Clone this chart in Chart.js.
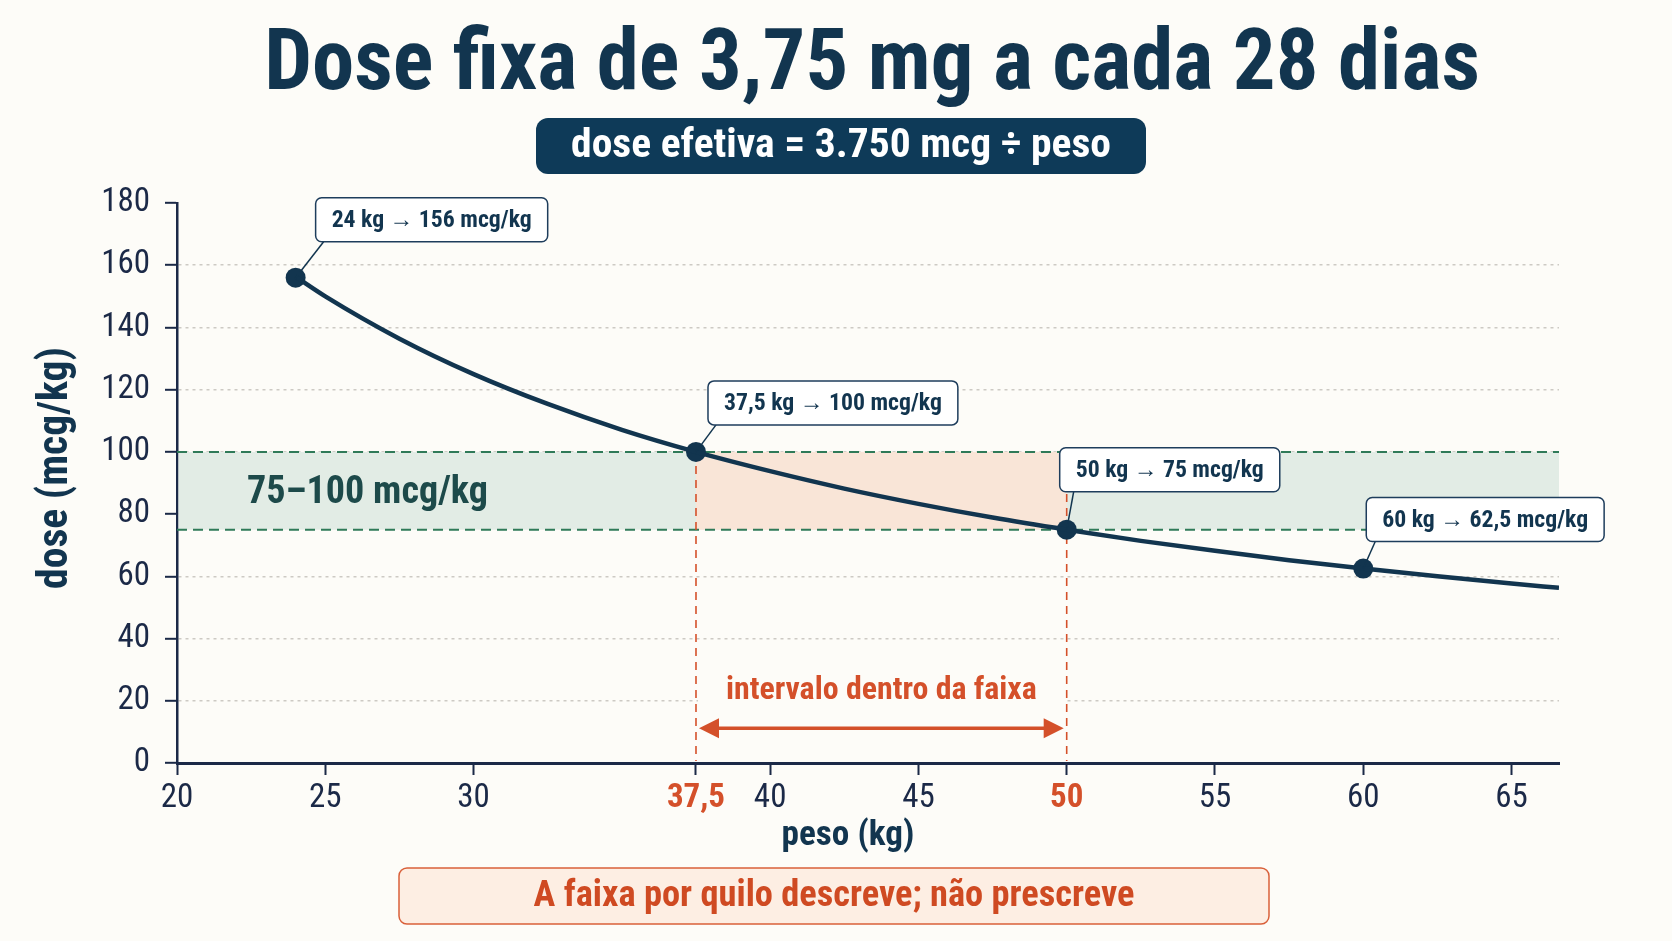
<!DOCTYPE html>
<html lang="pt-BR">
<head>
<meta charset="utf-8">
<title>Dose fixa de 3,75 mg a cada 28 dias</title>
<script src="https://cdn.jsdelivr.net/npm/chart.js@4.4.1/dist/chart.umd.min.js"></script>
<style>
  html, body { margin: 0; padding: 0; background: #fdfcf8; }
  #wrap { width: 1672px; height: 941px; }
</style>
</head>
<body>
<div id="wrap"><canvas id="dose" width="1672" height="941"></canvas></div>
<script>
// curva: dose por quilo (mcg/kg) para cada peso (kg)
const pesos = [24, 25, 27.5, 30, 32.5, 35, 37.5, 40, 42.5, 45, 47.5, 50, 52.5, 55, 57.5, 60, 62.5, 65, 66.6]
const doses = [156.3, 150, 136.4, 125, 115.4, 107.1, 100, 93.8, 88.2, 83.3, 78.9, 75, 71.4, 68.2, 65.2, 62.5, 60, 57.7, 56.3]

// pontos destacados
const pontosPeso = [24, 37.5, 50, 60]
const pontosDose = [156, 100, 75, 62.5]

const ticksX = [20, 25, 30, 37.5, 40, 45, 50, 55, 60, 65]
const ticksDestaque = [37.5, 50]
const faixa = [75, 100]
const intervalo = [37.5, 50]

const NAVY = '#12354f'
const INK = '#1b2947'
const RED = '#d4502a'
const GREEN = '#2f7a58'
const GREEN_FILL = '#e2ece5'
const PEACH_FILL = '#f9e5d7'
const BG = '#fdfcf8'
const FAMILY = "'Liberation Sans Narrow', 'Roboto Condensed', Roboto, sans-serif"

const fmt = v => String(v).replace('.', ',')
const destaque = c => !!(c.tick && ticksDestaque.includes(c.tick.value))

function fitFont(ctx, text, weight, maxWidth, maxSize) {
    ctx.font = `${weight} 100px ${FAMILY}`
    const w = ctx.measureText(text).width
    const size = Math.min(maxSize, 100 * maxWidth / w)
    ctx.font = `${weight} ${size}px ${FAMILY}`
    return size
}

function box(ctx, x, y, w, h, r, fill, stroke, lw) {
    ctx.beginPath()
    ctx.roundRect(x, y, w, h, r)
    if (fill) { ctx.fillStyle = fill; ctx.fill() }
    if (stroke) { ctx.lineWidth = lw; ctx.strokeStyle = stroke; ctx.stroke() }
}

function line(ctx, x1, y1, x2, y2) {
    ctx.beginPath()
    ctx.moveTo(x1, y1)
    ctx.lineTo(x2, y2)
    ctx.stroke()
}

// onde fica cada caixinha em relacao ao seu ponto
const caixas = [
    { dx: 20, dy: -36, lx: 8 },
    { dx: 12, dy: -27, lx: 8 },
    { dx: -7, dy: -38, lx: 14 },
    { dx: 3, dy: -27, lx: 9 }
]

const extras = {
    id: 'extras',
    beforeDraw(chart) {
        const ctx = chart.ctx
        ctx.save()
        ctx.fillStyle = BG
        ctx.fillRect(0, 0, chart.width, chart.height)
        ctx.restore()
    },
    beforeDatasetsDraw(chart) {
        const { ctx, chartArea: a, scales: { x, y } } = chart
        const yHi = y.getPixelForValue(faixa[1])
        const yLo = y.getPixelForValue(faixa[0])
        const xA = x.getPixelForValue(intervalo[0])
        const xB = x.getPixelForValue(intervalo[1])
        ctx.save()

        ctx.fillStyle = GREEN_FILL
        ctx.fillRect(a.left + 1.5, yHi, a.right - a.left - 1.5, yLo - yHi)
        ctx.fillStyle = PEACH_FILL
        ctx.fillRect(xA, yHi, xB - xA, yLo - yHi)

        // esconde a grade atras do texto do intervalo
        const yT1 = y.getPixelForValue(31), yT2 = y.getPixelForValue(16)
        ctx.fillStyle = BG
        ctx.fillRect(xA + 2, yT1, xB - xA - 4, yT2 - yT1)

        ctx.setLineDash([10, 6])
        ctx.lineWidth = 2
        ctx.strokeStyle = GREEN
        faixa.forEach(v => {
            const py = y.getPixelForValue(v)
            line(ctx, a.left, py, a.right, py)
        })

        ctx.setLineDash([8, 6])
        ctx.lineWidth = 1.6
        ctx.strokeStyle = RED
        intervalo.forEach(v => {
            const px = x.getPixelForValue(v)
            line(ctx, px, yHi, px, a.bottom - 2)
        })
        ctx.setLineDash([])

        // seta dupla
        const ay = y.getPixelForValue(11.2)
        const x1 = xA + 3, x2 = xB - 3
        ctx.strokeStyle = RED
        ctx.fillStyle = RED
        ctx.lineWidth = 3.5
        line(ctx, x1 + 12, ay, x2 - 12, ay)
        ctx.beginPath()
        ctx.moveTo(x1, ay); ctx.lineTo(x1 + 20, ay - 10); ctx.lineTo(x1 + 20, ay + 10); ctx.closePath()
        ctx.fill()
        ctx.beginPath()
        ctx.moveTo(x2, ay); ctx.lineTo(x2 - 20, ay - 10); ctx.lineTo(x2 - 20, ay + 10); ctx.closePath()
        ctx.fill()

        ctx.textAlign = 'center'
        ctx.textBaseline = 'middle'
        fitFont(ctx, 'intervalo dentro da faixa', 'bold', 311, 34)
        ctx.fillText('intervalo dentro da faixa', (xA + xB) / 2, y.getPixelForValue(23))

        ctx.textAlign = 'left'
        ctx.fillStyle = '#1d4a4a'
        const faixaTexto = `${faixa[0]}–${faixa[1]} mcg/kg`
        fitFont(ctx, faixaTexto, 'bold', 241, 40)
        ctx.fillText(faixaTexto, a.left + 70, y.getPixelForValue(86.5))

        ctx.restore()
    },
    afterDraw(chart) {
        const { ctx, scales: { x, y } } = chart
        ctx.save()
        ctx.textBaseline = 'middle'
        ctx.textAlign = 'center'

        // titulo
        ctx.fillStyle = NAVY
        fitFont(ctx, 'Dose fixa de 3,75 mg a cada 28 dias', 'bold', 1216, 92)
        ctx.textBaseline = 'alphabetic'
        ctx.fillText('Dose fixa de 3,75 mg a cada 28 dias', 872, 89)
        ctx.textBaseline = 'middle'

        // subtitulo
        box(ctx, 536, 118, 610, 56, 12, '#0e3a58')
        ctx.fillStyle = '#ffffff'
        fitFont(ctx, 'dose efetiva = 3.750 mcg ÷ peso', 'bold', 540, 44)
        ctx.fillText('dose efetiva = 3.750 mcg ÷ peso', 841, 147)

        // titulos dos eixos
        ctx.fillStyle = NAVY
        fitFont(ctx, 'peso (kg)', 'bold', 133, 38)
        ctx.fillText('peso (kg)', 848, 836)
        ctx.save()
        ctx.translate(57, 468)
        ctx.rotate(-Math.PI / 2)
        fitFont(ctx, 'dose (mcg/kg)', 'bold', 242, 42)
        ctx.fillText('dose (mcg/kg)', 0, 0)
        ctx.restore()

        // caixas dos pontos
        const textos = pontosPeso.map((p, i) => `${fmt(p)} kg → ${fmt(pontosDose[i])} mcg/kg`)
        const size = fitFont(ctx, textos[1], 'bold', 218, 25)
        ctx.font = `bold ${size}px ${FAMILY}`
        textos.forEach((t, i) => {
            const px = x.getPixelForValue(pontosPeso[i])
            const py = y.getPixelForValue(pontosDose[i])
            const c = caixas[i]
            const w = ctx.measureText(t).width + 32
            const h = 44
            const bx = px + c.dx, by = py + c.dy - h
            ctx.strokeStyle = NAVY
            ctx.lineWidth = 1.5
            line(ctx, bx + c.lx, by + h, px, py)
            box(ctx, bx, by, w, h, 6, '#ffffff', '#1e3d5c', 1.5)
            ctx.fillStyle = NAVY
            ctx.textAlign = 'left'
            ctx.fillText(t, bx + 16, by + h / 2 + 1)
        })

        // nota de rodape
        ctx.textAlign = 'center'
        box(ctx, 399, 868, 870, 56, 8, '#fdeee3', '#d9603a', 1.5)
        ctx.fillStyle = '#cf4a22'
        fitFont(ctx, 'A faixa por quilo descreve; não prescreve', 'bold', 601, 40)
        ctx.fillText('A faixa por quilo descreve; não prescreve', 834, 897)

        ctx.restore()
    }
}

const curva = pesos.map((p, i) => ({ x: p, y: doses[i] }))
const pontos = pontosPeso.map((p, i) => ({ x: p, y: pontosDose[i] }))

new Chart(document.getElementById('dose'), {
    type: 'line',
    data: {
        datasets: [{
            label: 'dose',
            data: curva,
            borderColor: NAVY,
            borderWidth: 4.5,
            pointRadius: 0,
            cubicInterpolationMode: 'monotone'
        },
        {
            label: 'pontos',
            data: pontos,
            showLine: false,
            pointRadius: 10,
            pointBackgroundColor: NAVY,
            pointBorderWidth: 0
        }]
    },
    options: {
        responsive: false,
        animation: false,
        layout: { padding: { left: 0, right: 113, top: 203, bottom: 118 } },
        plugins: { legend: { display: false }, tooltip: { enabled: false } },
        scales: {
            x: {
                type: 'linear',
                min: 20,
                max: 66.6,
                afterBuildTicks: s => { s.ticks = ticksX.map(v => ({ value: v })) },
                afterFit: s => { s.height = 60 },
                grid: { drawOnChartArea: false, tickLength: 12, tickColor: INK, tickWidth: 2 },
                border: { color: INK, width: 3 },
                ticks: {
                    padding: 4,
                    autoSkip: false,
                    maxRotation: 0,
                    callback: v => fmt(v),
                    color: c => destaque(c) ? RED : INK,
                    font: c => ({
                        family: FAMILY,
                        size: 33,
                        weight: destaque(c) ? 'bold' : 'normal'
                    })
                }
            },
            y: {
                min: 0,
                max: 180,
                afterFit: s => { s.width = 177 },
                grid: {
                    color: c => (!c.tick || c.tick.value === 0 || c.tick.value === 180) ? 'rgba(0,0,0,0)' : '#cdcac4',
                    lineWidth: 1.6,
                    tickLength: 12,
                    tickColor: INK,
                    tickWidth: 2
                },
                border: { color: INK, width: 2.5, dash: [3, 4] },
                ticks: {
                    stepSize: 20,
                    padding: 15,
                    color: INK,
                    font: { family: FAMILY, size: 33 }
                }
            }
        }
    },
    plugins: [extras]
})
</script>
</body>
</html>
